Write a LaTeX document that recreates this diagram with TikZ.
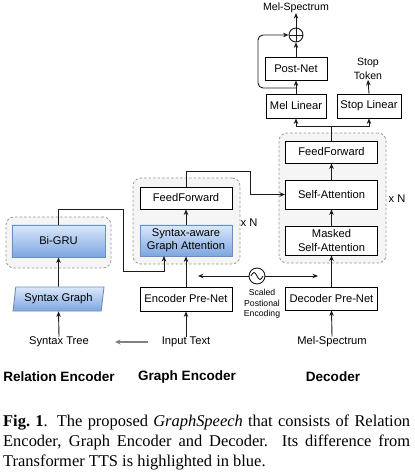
\documentclass[tikz,border=0pt]{standalone}
\usepackage{fontspec}
\setmainfont{Liberation Serif}
\setsansfont{Liberation Sans}
\usetikzlibrary{arrows.meta,shapes.geometric}
\definecolor{lineblk}{HTML}{1A1A1A}
\definecolor{grpfill}{HTML}{F5F5F5}
\definecolor{grpdraw}{HTML}{9A9A9A}
\definecolor{bluetop}{HTML}{DAE8FC}
\definecolor{bluebot}{HTML}{7EA6E0}
\definecolor{blueedge}{HTML}{6C8EBF}
\definecolor{grayarrow}{HTML}{808080}
\tikzset{
  boxtext/.style={font=\sffamily\fontsize{11.2}{13.3}\selectfont},
  box/.style={boxtext, draw=black, fill=white, line width=0.9bp, inner sep=0pt, align=center},
  bluebox/.style={box, draw=blueedge, top color=bluetop, bottom color=bluebot},
  groupbox/.style={draw=grpdraw, fill=grpfill, dash pattern=on 2.5bp off 2bp, rounded corners=8bp, line width=0.8bp, inner sep=0pt},
  conn/.style={draw=lineblk, line width=0.9bp, -{Stealth[length=5.5bp,width=4.5bp]}},
  plainline/.style={draw=lineblk, line width=0.9bp},
  grayconn/.style={draw=grayarrow, line width=1.5bp, -{Stealth[length=5.5bp,width=5bp]}},
  lbl/.style={boxtext, inner sep=0pt, align=center},
  smalllbl/.style={font=\sffamily\fontsize{10.6}{14}\selectfont, inner sep=0pt, align=center},
  tinylbl/.style={font=\sffamily\fontsize{8.7}{10.6}\selectfont, inner sep=0pt, align=center},
  section/.style={font=\sffamily\bfseries\fontsize{13.6}{16}\selectfont, inner sep=0pt},
}
\begin{document}
\begin{tikzpicture}[x=1bp,y=-1bp]
\useasboundingbox (0,0) rectangle (414,475);
% groups
\node[groupbox, minimum width=105bp, minimum height=51bp] (relgrp) at (58.5,242.5) {};
\node[groupbox, minimum width=107bp, minimum height=86bp] (encgrp) at (186.5,221) {};
\node[groupbox, minimum width=107bp, minimum height=130bp] (decgrp) at (332.5,198) {};
% relation encoder
\node[bluebox, minimum width=93bp, minimum height=32bp] (bigru) at (58.5,241) {Bi-GRU};
\node[bluebox, trapezium, trapezium left angle=78, trapezium right angle=102, trapezium stretches=true, minimum width=91bp, minimum height=24bp] (syngraph) at (58.5,299) {Syntax Graph};
\node[lbl] (syntaxtree) at (59,342) {Syntax Tree};
% graph encoder
\node[box, minimum width=92bp, minimum height=24bp] (encprenet) at (186,299) {Encoder Pre-Net};
\node[bluebox, minimum width=92bp, minimum height=31bp] (saga) at (186,240.5) {Syntax-aware\\Graph Attention};
\node[box, minimum width=92bp, minimum height=22bp] (encff) at (186,198) {FeedForward};
\node[lbl] (inputtext) at (186,342) {Input Text};
\node[lbl] (xnenc) at (249,223) {x N};
% decoder
\node[box, minimum width=92bp, minimum height=23bp] (decprenet) at (331.5,298.5) {Decoder Pre-Net};
\node[box, minimum width=92bp, minimum height=29bp] (masked) at (331.5,240.5) {Masked\\Self-Attention};
\node[box, minimum width=92bp, minimum height=29bp] (selfatt) at (331.5,194.5) {Self-Attention};
\node[box, minimum width=92bp, minimum height=22bp] (decff) at (331.5,152) {FeedForward};
\node[lbl] (melin) at (332,342) {Mel-Spectrum};
\node[lbl] (xndec) at (397,199) {x N};
\node[box, minimum width=60bp, minimum height=24bp] (mellinear) at (296,106) {Mel Linear};
\node[box, minimum width=64bp, minimum height=24bp] (stoplinear) at (369,106) {Stop Linear};
\node[box, minimum width=62bp, minimum height=23bp] (postnet) at (296,68.5) {Post-Net};
\node[draw=lineblk, fill=white, line width=0.9bp, circle, minimum size=14bp, inner sep=0pt,
  path picture={\draw[lineblk, line width=0.8bp] (path picture bounding box.north) -- (path picture bounding box.south)
    (path picture bounding box.west) -- (path picture bounding box.east);}] (oplus) at (296,35) {};
\node[smalllbl] (melout) at (296,8) {Mel-Spectrum};
\node[smalllbl] (stoptoken) at (368,69) {Stop\\Token};
% positional encoding
\node[draw=lineblk, fill=white, line width=0.9bp, circle, minimum size=16bp, inner sep=0pt] (sine) at (257,276) {};
\draw[plainline] ([xshift=-6bp]sine.center) sin ++(3,-3.5) cos ++(3,3.5) sin ++(3,3.5) cos ++(3,-3.5);
\node[tinylbl] (scaled) at (262,304) {Scaled\\Postional\\Encoding};
\coordinate (peleft) at (198,276);
\coordinate (peright) at (318,276);
\draw[conn] (sine.west) -- (peleft);
\draw[conn] (sine.east) -- (peright);
% section labels
\node[section] (lrel) at (59,377) {Relation Encoder};
\node[section] (lenc) at (187,377) {Graph Encoder};
\node[section] (ldec) at (333,377) {Decoder};
% connectors: relation encoder
\draw[conn] (syntaxtree.north) -- (syngraph.south);
\draw[conn] (syngraph.north) -- (bigru.south);
\coordinate (b1) at (58.5,209);
\coordinate (b2) at (123,209);
\coordinate (b3) at (123,271);
\coordinate (b4) at (164,271);
\coordinate (b5) at (164,256);
\draw[conn] (bigru.north) -- (b1) -- (b2) -- (b3) -- (b4) -- (b5);
\coordinate (itstart) at (148,342);
\coordinate (itend) at (115,342);
\draw[grayconn] (itstart) -- (itend);
% graph encoder
\draw[conn] (inputtext.north) -- (encprenet.south);
\draw[conn] (encprenet.north) -- (saga.south);
\draw[conn] (saga.north) -- (encff.south);
\coordinate (e1) at (186,171);
\coordinate (e2) at (250,171);
\coordinate (e3) at (250,194.5);
\draw[conn] (encff.north) -- (e1) -- (e2) -- (e3) -- (selfatt.west);
% decoder
\draw[conn] (melin.north) -- (decprenet.south);
\draw[conn] (decprenet.north) -- (masked.south);
\draw[conn] (masked.north) -- (selfatt.south);
\draw[conn] (selfatt.north) -- (decff.south);
\coordinate (split) at (331.5,126);
\draw[plainline] (decff.north) -- (split);
\draw[conn] (split) -| (mellinear.south);
\draw[conn] (split) -| (stoplinear.south);
\draw[conn] (mellinear.north) -- (postnet.south);
\draw[conn] (postnet.north) -- (oplus.south);
\draw[conn] (oplus.north) -- (melout.south);
\draw[conn] (stoplinear.north) -- (stoptoken.south);
\coordinate (s0) at (296,88);
\coordinate (s1) at (258,88);
\coordinate (s2) at (258,35);
\draw[conn, rounded corners=5bp] (s0) -- (s1) -- (s2) -- (oplus.west);
% caption
\node[anchor=north west, inner sep=0pt, text width=407bp, align=justify,
  font=\fontsize{16.5}{20}\selectfont] (caption) at (3,414.7)
  {\textbf{Fig.\ 1}. The proposed \textit{GraphSpeech} that consists of Relation\linebreak
   Encoder, Graph Encoder and Decoder. Its difference from\linebreak
   Transformer TTS is highlighted in blue.};
\end{tikzpicture}
\end{document}
